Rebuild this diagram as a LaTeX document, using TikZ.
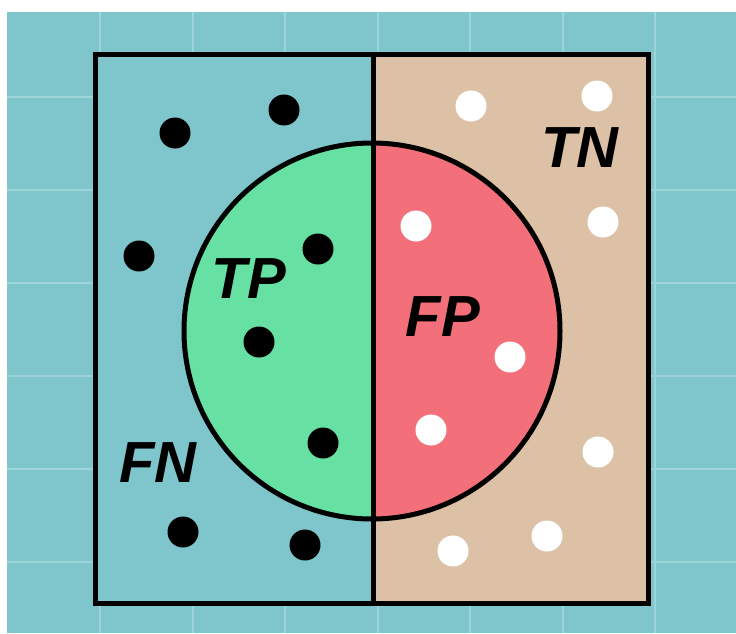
\documentclass[tikz,border=0pt]{standalone}
\usepackage{fontspec}
\setmainfont{Liberation Sans}
\definecolor{bgteal}{HTML}{7EC6CC}
\definecolor{gridline}{HTML}{9DD4D8}
\definecolor{tan}{HTML}{DCC1A6}
\definecolor{tpgreen}{HTML}{66E0A3}
\definecolor{fpred}{HTML}{F36F7A}
\begin{document}
\begin{tikzpicture}[x=1pt,y=-1pt,
  dotb/.style={circle,fill=black,inner sep=0pt,minimum size=31pt},
  dotw/.style={circle,fill=white,inner sep=0pt,minimum size=31pt},
  lbl/.style={font=\fontsize{58}{58}\selectfont\bfseries\itshape,inner sep=0pt,anchor=center},
  frame/.style={line width=5pt,draw=black}]
\useasboundingbox (0,0) rectangle (736,633);
\fill[white] (0,0) rectangle (736,633);
\fill[bgteal] (7,12) rectangle (736,633);
% grid
\foreach \gx in {100,192.5,285,377.5,470,562.5,655}
  \draw[gridline,line width=2pt] (\gx,12) -- (\gx,633);
\foreach \gy in {97,190,283,376,469,562}
  \draw[gridline,line width=2pt] (7,\gy) -- (736,\gy);
% panels
\fill[bgteal] (95,54) rectangle (373,603);
\fill[tan] (373,54) rectangle (648,603);
% circle halves
\coordinate (c) at (372,331);
\fill[tpgreen] (372,143) arc[start angle=-90,end angle=-270,radius=188] -- cycle;
\fill[fpred] (372,143) arc[start angle=-90,end angle=90,radius=188] -- cycle;
\draw[frame] (c) circle[radius=188];
\draw[frame] (95,54) rectangle (648,603);
\draw[frame] (373,54) -- (373,603);
% black dots
\node[dotb] (b1) at (175,133) {};
\node[dotb] (b2) at (284,110) {};
\node[dotb] (b3) at (139,256) {};
\node[dotb] (b4) at (318,249) {};
\node[dotb] (b5) at (259,342) {};
\node[dotb] (b6) at (323,443) {};
\node[dotb] (b7) at (183,532) {};
\node[dotb] (b8) at (305,545) {};
% white dots
\node[dotw] (w1) at (471,106) {};
\node[dotw] (w2) at (597,96) {};
\node[dotw] (w3) at (416,226) {};
\node[dotw] (w4) at (603,222) {};
\node[dotw] (w5) at (510,357) {};
\node[dotw] (w6) at (431,430) {};
\node[dotw] (w7) at (598,452) {};
\node[dotw] (w8) at (547,536) {};
\node[dotw] (w9) at (453,551) {};
% labels
\node[lbl] (tn) at (580,148) {TN};
\node[lbl] (tp) at (249,279) {TP};
\node[lbl] (fp) at (443,317) {FP};
\node[lbl] (fn) at (158,463) {FN};
\end{tikzpicture}
\end{document}
